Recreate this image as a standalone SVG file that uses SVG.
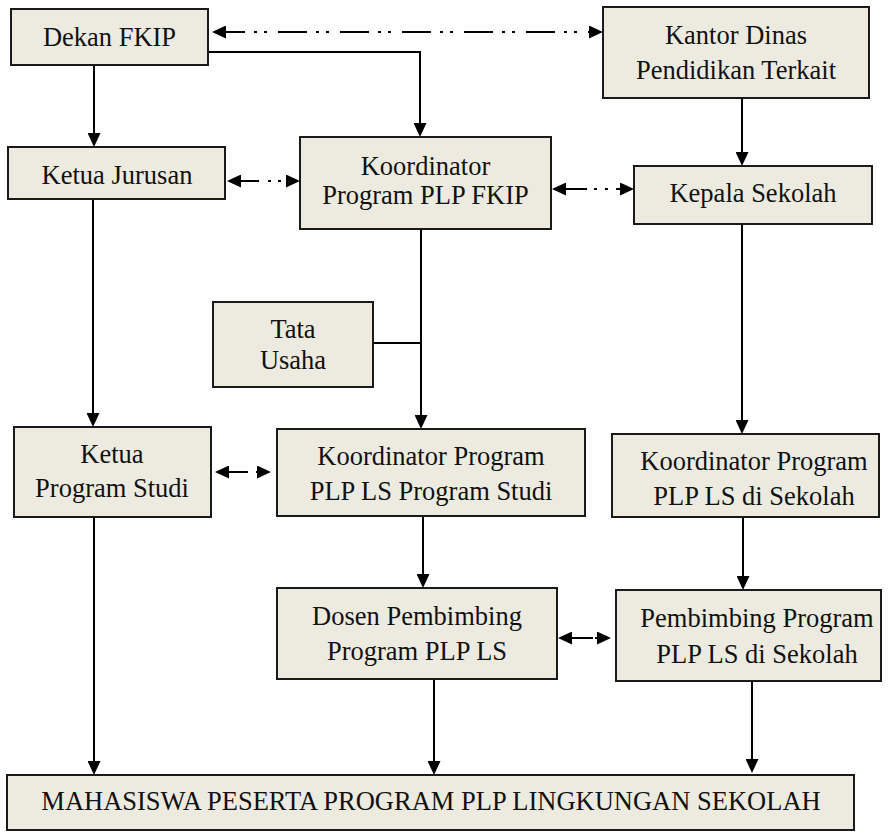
<svg xmlns="http://www.w3.org/2000/svg" width="891" height="835" viewBox="0 0 891 835" font-family="'Liberation Serif', 'Times New Roman', Times, serif">
<style>
.box{fill:#EDEBE0;stroke:#1a1a1a;stroke-width:2}
text{font-family:'Liberation Serif','Times New Roman',Times,serif;font-size:26.5px;fill:#111;text-anchor:middle}
.ln{fill:none;stroke:#000;stroke-width:2}
.a1{marker-end:url(#ah)}
.a2{marker-start:url(#ah);marker-end:url(#ah)}
</style>
<defs>
<marker id="ah" markerUnits="userSpaceOnUse" markerWidth="14" markerHeight="13" viewBox="0 0 14 13" refX="10" refY="6.5" orient="auto-start-reverse">
<path d="M0,0 L14,6.5 L0,13 z" fill="#000"/>
</marker>
</defs>
<rect width="891" height="835" fill="#fff"/>
<g id="connectors">
<path class="ln a2" d="M216,32 H599" stroke-dasharray="29 9 3 7 3 11"/>
<path class="ln a1" d="M208,52 H420 V133"/>
<path class="ln a1" d="M94,66 V143"/>
<path class="ln a2" d="M231,181 H296" stroke-dasharray="28 9 3 7 3 5 40"/>
<path class="ln a2" d="M556,189 H630" stroke-dasharray="31 7 3 8 3 8 30"/>
<path class="ln a1" d="M742,98 V162"/>
<path class="ln a1" d="M93,199 V423"/>
<path class="ln a1" d="M421,229 V425"/>
<path class="ln" d="M373,343 H421"/>
<path class="ln a1" d="M742,224 V430"/>
<path class="ln a2" d="M219,472 H267" stroke-dasharray="29 8 30"/>
<path class="ln a1" d="M94,517 V771"/>
<path class="ln a1" d="M423,516 V584"/>
<path class="ln a1" d="M743,517 V586"/>
<path class="ln a2" d="M562,638 H607" stroke-dasharray="31 2 30"/>
<path class="ln a1" d="M434,679 V771"/>
<path class="ln a1" d="M752,681 V769"/>
</g>
<g id="dekan-fkip">
<rect class="box" x="11" y="9" width="197" height="56"/>
<text x="109.5" y="46">Dekan FKIP</text>
</g>
<g id="kantor-dinas">
<rect class="box" x="603" y="7" width="266" height="91"/>
<text x="736" y="44">Kantor Dinas</text>
<text x="736" y="79">Pendidikan Terkait</text>
</g>
<g id="ketua-jurusan">
<rect class="box" x="8" y="147" width="217" height="52"/>
<text x="117" y="184">Ketua Jurusan</text>
</g>
<g id="koordinator-fkip">
<rect class="box" x="300" y="137" width="251" height="92"/>
<text x="425.5" y="175">Koordinator</text>
<text x="425.5" y="204">Program PLP FKIP</text>
</g>
<g id="kepala-sekolah">
<rect class="box" x="634" y="166" width="238" height="58"/>
<text x="753" y="202">Kepala Sekolah</text>
</g>
<g id="tata-usaha">
<rect class="box" x="213" y="302" width="160" height="85"/>
<text x="293" y="338">Tata</text>
<text x="293" y="369">Usaha</text>
</g>
<g id="ketua-prodi">
<rect class="box" x="14" y="427" width="197" height="90"/>
<text x="112" y="463">Ketua</text>
<text x="112" y="497">Program Studi</text>
</g>
<g id="koordinator-prodi">
<rect class="box" x="277" y="429" width="308" height="87"/>
<text x="431" y="465">Koordinator Program</text>
<text x="431" y="500">PLP LS Program Studi</text>
</g>
<g id="koordinator-sekolah">
<rect class="box" x="612" y="434" width="267" height="83"/>
<text x="754" y="470">Koordinator Program</text>
<text x="754" y="505">PLP LS di Sekolah</text>
</g>
<g id="dosen-pembimbing">
<rect class="box" x="277" y="588" width="280" height="91"/>
<text x="417" y="625">Dosen Pembimbing</text>
<text x="417" y="660">Program PLP LS</text>
</g>
<g id="pembimbing-sekolah">
<rect class="box" x="616" y="590" width="265" height="91"/>
<text x="757" y="627">Pembimbing Program</text>
<text x="757" y="663">PLP LS di Sekolah</text>
</g>
<g id="mahasiswa">
<rect class="box" x="7" y="775" width="847" height="55"/>
<text x="431" y="810">MAHASISWA PESERTA PROGRAM PLP LINGKUNGAN SEKOLAH</text>
</g>
</svg>
